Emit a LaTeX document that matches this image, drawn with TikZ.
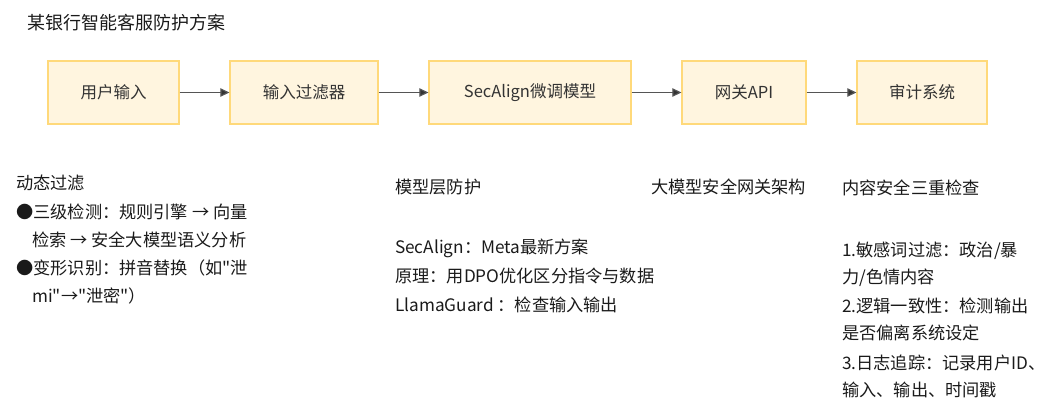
\documentclass[tikz,border=0pt]{standalone}
\usepackage{fontspec}
\newfontfamily\cjkfont{Noto Sans CJK SC}
\usetikzlibrary{arrows.meta}
\definecolor{boxfill}{HTML}{FFF5DF}
\definecolor{boxline}{HTML}{FFD97A}
\definecolor{boxtxt}{HTML}{333333}
\definecolor{txt}{HTML}{1A1A1A}
\definecolor{arr}{HTML}{555555}
\begin{document}
\begin{tikzpicture}[x=1pt,y=-1pt,
  stepbox/.style={draw=boxline, fill=boxfill, line width=1.3pt, minimum height=63pt,
    inner sep=0pt, font=\cjkfont\fontsize{16.5}{20}\selectfont, text=boxtxt},
  flow/.style={draw=arr, line width=1.2pt, -{Triangle[length=9pt,width=8.5pt,fill=boxtxt]}},
  lbl/.style={anchor=base west, inner sep=0pt, font=\cjkfont\fontsize{17.2}{20}\selectfont, text=txt},
  ttl/.style={anchor=base west, inner sep=0pt, font=\cjkfont\fontsize{18}{22}\selectfont, text=txt}]
\useasboundingbox (0,0) rectangle (1045,415);

% title
\node[ttl] (title) at (27,29.5) {某银行智能客服防护方案};

% flow boxes
\node[stepbox, minimum width=131pt] (b1) at (113.5,92.5) {用户输入};
\node[stepbox, minimum width=148pt] (b2) at (304,92.5) {输入过滤器};
\node[stepbox, minimum width=202pt] (b3) at (530,92.5) {SecAlign微调模型};
\node[stepbox, minimum width=124pt] (b4) at (744,92.5) {网关API};
\node[stepbox, minimum width=130pt] (b5) at (922,92.5) {审计系统};

\draw[flow] (b1) -- (b2);
\draw[flow] (b2) -- (b3);
\draw[flow] (b3) -- (b4);
\draw[flow] (b4) -- (b5);

% left column
\node[lbl] (l0) at (16,189.5) {动态过滤};
\node[lbl] (l1) at (16,218) {●三级检测：规则引擎 → 向量};
\node[lbl] (l2) at (32,246) {检索 → 安全大模型语义分析};
\node[lbl] (l3) at (16,274) {●变形识别：拼音替换（如"泄};
\node[lbl] (l4) at (32,302.5) {mi"→"泄密"）};

% middle column
\node[lbl] (m0) at (395,193.5) {模型层防护};
\node[lbl] (g0) at (651,193.5) {大模型安全网关架构};
\node[lbl] (m1) at (395,253.5) {SecAlign：Meta最新方案};
\node[lbl] (m2) at (395,282.5) {原理：用DPO优化区分指令与数据};
\node[lbl] (m3) at (395,311.5) {LlamaGuard ：检查输入输出};

% right column
\node[lbl] (r0) at (842,194.5) {内容安全三重检查};
\node[lbl] (r1) at (842,256.5) {1.敏感词过滤：政治/暴};
\node[lbl] (r2) at (842,283.5) {力/色情内容};
\node[lbl] (r3) at (842,312.5) {2.逻辑一致性：检测输出};
\node[lbl] (r4) at (842,339.5) {是否偏离系统设定};
\node[lbl] (r5) at (842,369) {3.日志追踪：记录用户ID、};
\node[lbl] (r6) at (842,396.5) {输入、输出、时间戳};
\end{tikzpicture}
\end{document}
